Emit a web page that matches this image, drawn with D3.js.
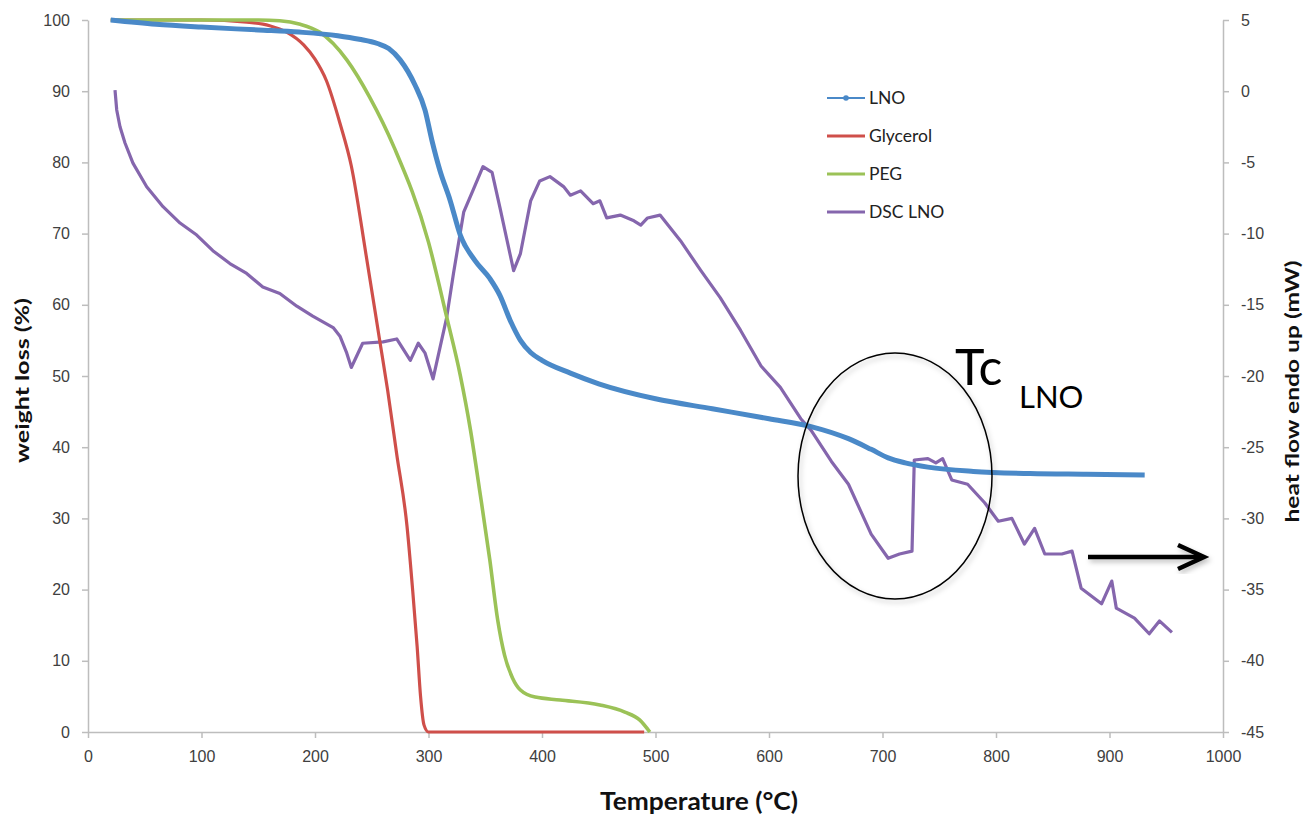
<!DOCTYPE html>
<html>
<head>
<meta charset="utf-8">
<script src="https://cdn.jsdelivr.net/npm/d3@7/dist/d3.min.js"></script>
<style>
  body { margin: 0; background: #fff; }
  svg { display: block; font-family: Lato, "Open Sans", sans-serif; }
</style>
</head>
<body>
<svg id="chart" width="1309" height="818"></svg>
<script>
// ---------- data ----------
const xTicks = [0, 100, 200, 300, 400, 500, 600, 700, 800, 900, 1000];
const leftTicks = [0, 10, 20, 30, 40, 50, 60, 70, 80, 90, 100];
const rightTicks = [5, 0, -5, -10, -15, -20, -25, -30, -35, -40, -45];
const seriesNames = ["LNO", "Glycerol", "PEG", "DSC LNO"];

const lnoT = [20, 60, 100, 150, 186, 220, 239, 255, 265, 275, 288, 297, 303, 310, 319, 328, 341, 354, 363, 372, 381, 390, 400, 425, 450, 500, 550, 600, 637, 670, 690, 705, 720, 740, 780, 830, 880, 931];
const lnoW = [100, 99.4, 99.0, 98.6, 98.3, 97.8, 97.3, 96.7, 96.0, 94.4, 90.9, 87.3, 83.1, 78.9, 74.7, 69.8, 66.2, 63.7, 61.3, 57.8, 55.0, 53.3, 52.2, 50.4, 48.9, 46.8, 45.4, 44.0, 42.9, 41.2, 39.7, 38.5, 37.8, 37.2, 36.6, 36.3, 36.2, 36.1];

const glyT = [20, 100, 140, 160, 175, 190, 200, 210, 222, 232, 245, 257, 264, 272, 281, 286, 290, 293, 296, 300, 350, 400, 450, 490];
const glyW = [100, 100, 99.7, 99.2, 98.3, 96.5, 94.5, 91.5, 85.5, 79.5, 67, 55, 48, 39, 29, 20, 12, 5, 1, 0, 0, 0, 0, 0];

const pegT = [20, 100, 150, 169, 187, 204, 228, 248, 270, 300, 316, 328, 337, 345, 354, 361, 367, 374, 381, 394, 416, 451, 473, 486, 495];
const pegW = [100, 100, 100, 99.9, 99.4, 98.3, 94.4, 89.2, 82.0, 68.8, 58.3, 50.1, 42.4, 34.0, 24.2, 15.7, 10.8, 7.6, 5.9, 4.9, 4.5, 3.8, 2.8, 1.7, 0];

const dscT = [23.8, 25.3, 28.2, 32.6, 39.6, 51.7, 66.1, 81.1, 95.8, 110, 125, 139.8, 154, 169, 184, 198, 216, 222, 228, 232, 242, 260, 272, 284, 291, 297, 304, 316, 322, 331, 339, 348, 356, 363, 375, 381, 390, 398, 407, 419, 425, 434, 445, 451, 457, 469, 481, 487, 493, 504, 522, 540, 557, 575, 593, 610, 628, 637, 655, 670, 690, 705, 715, 726, 728, 740, 747, 753, 761, 775, 790, 802, 814, 825, 834, 843, 858, 867, 875, 893, 902, 906, 922, 935, 944, 955];
const dscH = [0.08, -1.32, -2.5, -3.64, -5.05, -6.71, -8.11, -9.26, -10.1, -11.2, -12.1, -12.8, -13.75, -14.2, -15.1, -15.8, -16.6, -17.2, -18.4, -19.4, -17.7, -17.6, -17.4, -18.9, -17.7, -18.4, -20.2, -15.9, -12.8, -8.5, -7, -5.3, -5.7, -8.2, -12.6, -11.4, -7.7, -6.3, -6.0, -6.7, -7.3, -7.0, -7.9, -7.7, -8.9, -8.7, -9.1, -9.4, -8.9, -8.7, -10.5, -12.6, -14.5, -16.8, -19.3, -20.8, -23.0, -23.8, -26.0, -27.6, -31.1, -32.8, -32.5, -32.3, -25.9, -25.8, -26.1, -25.8, -27.3, -27.6, -28.9, -30.2, -30.0, -31.8, -30.7, -32.5, -32.5, -32.3, -34.9, -36.0, -34.4, -36.3, -37.0, -38.1, -37.2, -38.0];

const colors = { LNO: "#4a89c8", Glycerol: "#cf4f4a", PEG: "#9bc257", "DSC LNO": "#8566ad" };

// ---------- layout ----------
const svg = d3.select("#chart");
const L = 88, R = 1223, T = 20, B = 732;
const x = d3.scaleLinear().domain([0, 1000]).range([L, R]);
const yL = d3.scaleLinear().domain([0, 100]).range([B, T]);
const yR = d3.scaleLinear().domain([-45, 5]).range([B, T]);
const fmt = v => String(v);

const defs = svg.append("defs");
const f = defs.append("filter").attr("id", "shadow").attr("x", "-20%").attr("y", "-20%").attr("width", "140%").attr("height", "140%");
f.append("feDropShadow").attr("dx", 2).attr("dy", 3).attr("stdDeviation", 2.5).attr("flood-color", "#000").attr("flood-opacity", 0.25);

const axisColor = "#bdbdbd";
const tickText = "#404040";

function styleAxis(g) {
  g.selectAll(".domain").attr("stroke", axisColor).attr("stroke-width", 1.5);
  g.selectAll(".tick line").attr("stroke", axisColor).attr("stroke-width", 1.5);
  g.selectAll(".tick text").attr("fill", tickText).attr("font-size", 16);
}

const gx = svg.append("g").attr("transform", `translate(0,${B})`)
  .call(d3.axisBottom(x).tickValues(xTicks).tickFormat(fmt).tickSize(6).tickSizeOuter(0).tickPadding(13));
styleAxis(gx);

const gl = svg.append("g").attr("transform", `translate(${L},0)`)
  .call(d3.axisLeft(yL).tickValues(leftTicks).tickFormat(fmt).tickSize(6).tickSizeOuter(0).tickPadding(12));
styleAxis(gl);

const gr = svg.append("g").attr("transform", `translate(${R},0)`)
  .call(d3.axisRight(yR).tickValues(rightTicks).tickFormat(fmt).tickSize(6).tickSizeOuter(0).tickPadding(12));
styleAxis(gr);

// axis titles
svg.append("text").attr("transform", `translate(29,380.5) rotate(-90)`)
  .attr("text-anchor", "middle").attr("font-weight", "bold").attr("font-size", 18).attr("fill", "#111")
  .attr("textLength", 165).attr("lengthAdjust", "spacingAndGlyphs")
  .text("weight loss (%)");
svg.append("text").attr("transform", `translate(1299,391.5) rotate(-90)`)
  .attr("text-anchor", "middle").attr("font-weight", "bold").attr("font-size", 18).attr("fill", "#111")
  .attr("textLength", 262).attr("lengthAdjust", "spacingAndGlyphs")
  .text("heat flow endo up (mW)");
svg.append("text").attr("x", 699).attr("y", 810)
  .attr("text-anchor", "middle").attr("font-weight", "bold").attr("font-size", 24).attr("fill", "#111")
  .attr("textLength", 198).attr("lengthAdjust", "spacingAndGlyphs")
  .text("Temperature (°C)");

// ---------- series ----------
const zip = (a, b) => a.map((v, i) => [v, b[i]]);
const lineL = d3.line().x(d => x(d[0])).y(d => yL(d[1])).curve(d3.curveMonotoneX);
const lineR = d3.line().x(d => x(d[0])).y(d => yR(d[1])).curve(d3.curveLinear);

svg.append("path").datum(zip(dscT, dscH)).attr("d", lineR)
  .attr("fill", "none").attr("stroke", colors["DSC LNO"]).attr("stroke-width", 3.2).attr("stroke-linejoin", "round");
svg.append("path").datum(zip(glyT, glyW)).attr("d", lineL)
  .attr("fill", "none").attr("stroke", colors.Glycerol).attr("stroke-width", 3.2);
svg.append("path").datum(zip(pegT, pegW)).attr("d", lineL)
  .attr("fill", "none").attr("stroke", colors.PEG).attr("stroke-width", 3.6);
svg.append("path").datum(zip(lnoT, lnoW)).attr("d", lineL)
  .attr("fill", "none").attr("stroke", colors.LNO).attr("stroke-width", 5);

// ---------- legend ----------
const lg = svg.append("g");
seriesNames.forEach((name, i) => {
  const yy = 98 + i * 38;
  lg.append("line").attr("x1", 827).attr("x2", 865).attr("y1", yy).attr("y2", yy)
    .attr("stroke", colors[name]).attr("stroke-width", name === "LNO" ? 2 : 3);
  if (name === "LNO") lg.append("circle").attr("cx", 846).attr("cy", yy).attr("r", 2.8).attr("fill", colors[name]);
  lg.append("text").attr("x", 869).attr("y", yy + 6).attr("font-size", 17.5).attr("fill", "#222").text(name);
});

// ---------- annotations ----------
svg.append("ellipse").attr("cx", 895).attr("cy", 476).attr("rx", 97).attr("ry", 123)
  .attr("fill", "none").attr("stroke", "#000").attr("stroke-width", 1.5).attr("filter", "url(#shadow)");
svg.append("text").attr("x", 955).attr("y", 385).attr("font-size", 50).attr("fill", "#000").text("Tc");
svg.append("text").attr("x", 1019).attr("y", 408).attr("font-size", 31).attr("fill", "#000").text("LNO");

const ag = svg.append("g").attr("filter", "url(#shadow)");
ag.append("line").attr("x1", 1088).attr("x2", 1203).attr("y1", 557).attr("y2", 557)
  .attr("stroke", "#000").attr("stroke-width", 4.5);
ag.append("path").attr("d", "M1178,545 L1204,557 L1178,569")
  .attr("fill", "none").attr("stroke", "#000").attr("stroke-width", 4.5).attr("stroke-linejoin", "miter");
</script>
</body>
</html>
